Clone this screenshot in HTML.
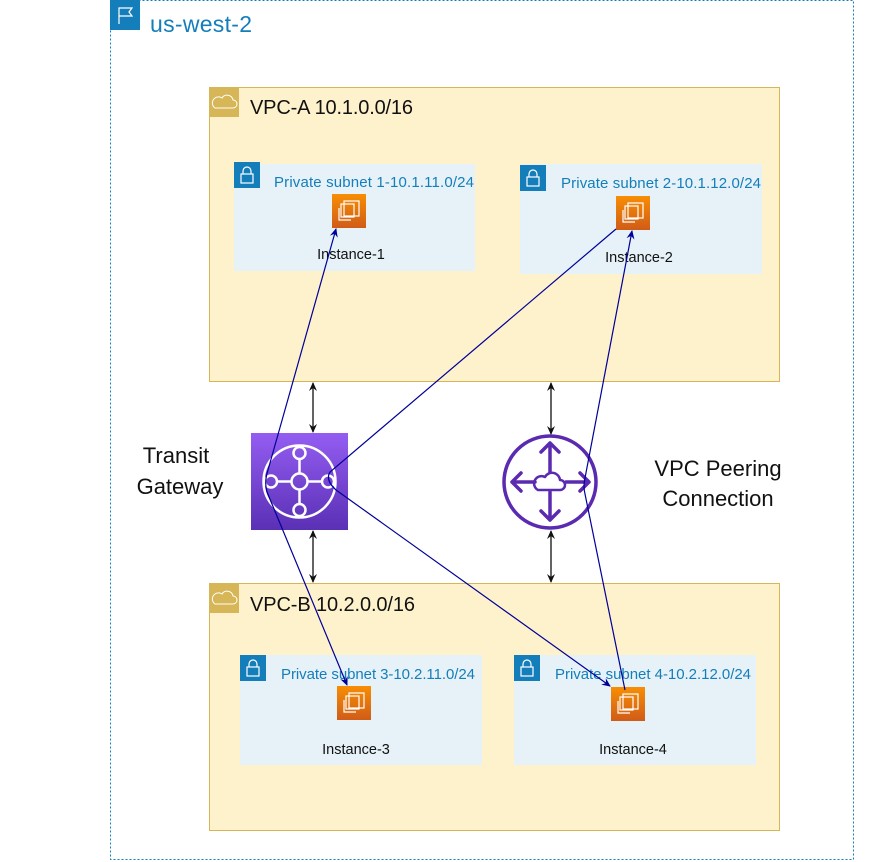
<!DOCTYPE html>
<html><head><style>
body{margin:0;background:#fff;width:887px;height:862px;overflow:hidden}
svg{display:block}
text{font-family:"Liberation Sans",Arial,sans-serif}
</style></head><body>
<svg width="887" height="862" viewBox="0 0 887 862" xmlns="http://www.w3.org/2000/svg">
<defs>
<marker id="ab" markerWidth="10" markerHeight="10" refX="8" refY="5" orient="auto" markerUnits="userSpaceOnUse"><path d="M0,1 L9,5 L0,9 L3,5 Z" fill="#000099"/></marker>
<marker id="ak" markerWidth="10" markerHeight="10" refX="8" refY="5" orient="auto-start-reverse" markerUnits="userSpaceOnUse"><path d="M0,1 L9,5 L0,9 L3,5 Z" fill="#111"/></marker>
<linearGradient id="og" x1="0" y1="0" x2="0" y2="1"><stop offset="0" stop-color="#f78e04"/><stop offset="1" stop-color="#d05c17"/></linearGradient>
<linearGradient id="pg" x1="0" y1="0" x2="0" y2="1"><stop offset="0" stop-color="#945df2"/><stop offset="1" stop-color="#5a30b5"/></linearGradient>
<g id="ec2">
<rect width="34" height="34" fill="url(#og)"/>
<rect x="12" y="7" width="15" height="15" fill="none" stroke="#fff" stroke-width="1.2"/>
<rect x="9" y="10" width="13" height="13" fill="none" stroke="#fff" stroke-width="1.2"/>
<path d="M7,14 V26 H19" fill="none" stroke="#fff" stroke-width="1.2"/>
</g>
<g id="lock">
<rect width="26" height="26" fill="#147eba"/>
<rect x="7" y="12" width="12" height="9" fill="none" stroke="#fff" stroke-width="1.2"/>
<path d="M9,12 V9 a4,4 0 0 1 8,0 V12" fill="none" stroke="#fff" stroke-width="1.2"/>
</g>
</defs>

<!-- region -->
<rect x="110.5" y="0.5" width="743" height="859" fill="none" stroke="#147eba" stroke-dasharray="2,2"/>
<rect x="110" y="0" width="30" height="30" fill="#147eba"/>
<path d="M119,24 V8 H132 L129,12 L132,16 H119" fill="none" stroke="#fff" stroke-width="1.2"/>
<text x="150" y="32" font-size="23" fill="#147eba" textLength="102">us-west-2</text>

<!-- VPC-A -->
<rect x="209.5" y="87.5" width="570" height="294" fill="#fef2cd" stroke="#d6b656"/>
<rect x="209" y="87" width="30" height="30" fill="#d6b656"/>
<path d="M215,108 h18 a4,4 0 0 0 0,-8 a6,6 0 0 0 -11,-2 a4,4 0 0 0 -7,10z" fill="none" stroke="#fff" stroke-width="1"/>
<text x="250" y="114" font-size="20" fill="#111" textLength="163">VPC-A 10.1.0.0/16</text>

<rect x="234" y="164" width="241" height="107" fill="#e6f2f8"/>
<use href="#lock" x="234" y="162"/>
<text x="274" y="187" font-size="15" fill="#147eba" textLength="200">Private subnet 1-10.1.11.0/24</text>
<use href="#ec2" x="332" y="194"/>
<text x="351" y="259" font-size="14.5" fill="#111" text-anchor="middle">Instance-1</text>

<rect x="520" y="164" width="242" height="110" fill="#e6f2f8"/>
<use href="#lock" x="520" y="165"/>
<text x="561" y="188" font-size="15" fill="#147eba" textLength="200">Private subnet 2-10.1.12.0/24</text>
<use href="#ec2" x="616" y="196"/>
<text x="639" y="262" font-size="14.5" fill="#111" text-anchor="middle">Instance-2</text>

<!-- VPC-B -->
<rect x="209.5" y="583.5" width="570" height="247" fill="#fef2cd" stroke="#d6b656"/>
<rect x="209" y="583" width="30" height="30" fill="#d6b656"/>
<path d="M215,604 h18 a4,4 0 0 0 0,-8 a6,6 0 0 0 -11,-2 a4,4 0 0 0 -7,10z" fill="none" stroke="#fff" stroke-width="1"/>
<text x="250" y="611" font-size="20" fill="#111" textLength="165">VPC-B 10.2.0.0/16</text>

<rect x="240" y="655" width="242" height="110" fill="#e6f2f8"/>
<use href="#lock" x="240" y="655"/>
<text x="281" y="679" font-size="15" fill="#147eba" textLength="194">Private subnet 3-10.2.11.0/24</text>
<use href="#ec2" x="337" y="686"/>
<text x="356" y="754" font-size="14.5" fill="#111" text-anchor="middle">Instance-3</text>

<rect x="514" y="655" width="242" height="110" fill="#e6f2f8"/>
<use href="#lock" x="514" y="655"/>
<text x="555" y="679" font-size="15" fill="#147eba" textLength="196">Private subnet 4-10.2.12.0/24</text>
<use href="#ec2" x="611" y="687"/>
<text x="633" y="754" font-size="14.5" fill="#111" text-anchor="middle">Instance-4</text>

<!-- TGW -->
<rect x="251" y="433" width="97" height="97" fill="url(#pg)"/>
<g fill="none" stroke="#fff" stroke-width="2.5">
<circle cx="299.5" cy="481.5" r="36"/>
<circle cx="299.5" cy="481.5" r="8"/>
<circle cx="299.5" cy="453" r="6"/>
<circle cx="299.5" cy="510" r="6"/>
<circle cx="271" cy="481.5" r="6"/>
<circle cx="328" cy="481.5" r="6"/>
<path d="M299.5,459 V473.5 M299.5,489.5 V504 M277,481.5 H291.5 M307.5,481.5 H322"/>
</g>
<text x="176" y="463" font-size="22" fill="#111" text-anchor="middle">Transit</text>
<text x="180" y="494" font-size="22" fill="#111" text-anchor="middle">Gateway</text>

<!-- Peering -->
<g fill="none" stroke="#5a2ab0" stroke-width="3.5" stroke-linecap="round" stroke-linejoin="round">
<circle cx="550" cy="482" r="46"/>
<path d="M550,472 V443 M541,452 L550,443 L559,452"/>
<path d="M550,492 V520 M541,511 L550,520 L559,511"/>
<path d="M535,482 H512 M521,473 L512,482 L521,491"/>
<path d="M566,482 H589 M580,473 L589,482 L580,491"/>
<path d="M538,490 h22 a5,5 0 0 0 0,-10 a8,8 0 0 0 -15,-3 a6,6 0 0 0 -7,13z" stroke-width="2.5"/>
</g>
<text x="718" y="476" font-size="22" fill="#111" text-anchor="middle">VPC Peering</text>
<text x="718" y="506" font-size="22" fill="#111" text-anchor="middle">Connection</text>

<!-- black double arrows -->
<g stroke="#111" stroke-width="1.3" marker-start="url(#ak)" marker-end="url(#ak)">
<line x1="313" y1="383" x2="313" y2="432"/>
<line x1="313" y1="531" x2="313" y2="582"/>
<line x1="551" y1="383" x2="551" y2="434"/>
<line x1="551" y1="531" x2="551" y2="582"/>
</g>

<!-- blue connectors -->
<g fill="none" stroke="#000099" stroke-width="1.2">
<path d="M268,470 L336,229" marker-end="url(#ab)"/>
<path d="M268,470 Q264,482 267,492 L347,685" marker-end="url(#ab)"/>
<path d="M616,229 L330,472 Q325,480 336,490 L610,686" marker-end="url(#ab)"/>
<path d="M585,478 L632,231" marker-end="url(#ab)"/>
<path d="M585,478 Q583,486 585,494 L625,690"/>
</g>
</svg>
</body></html>
